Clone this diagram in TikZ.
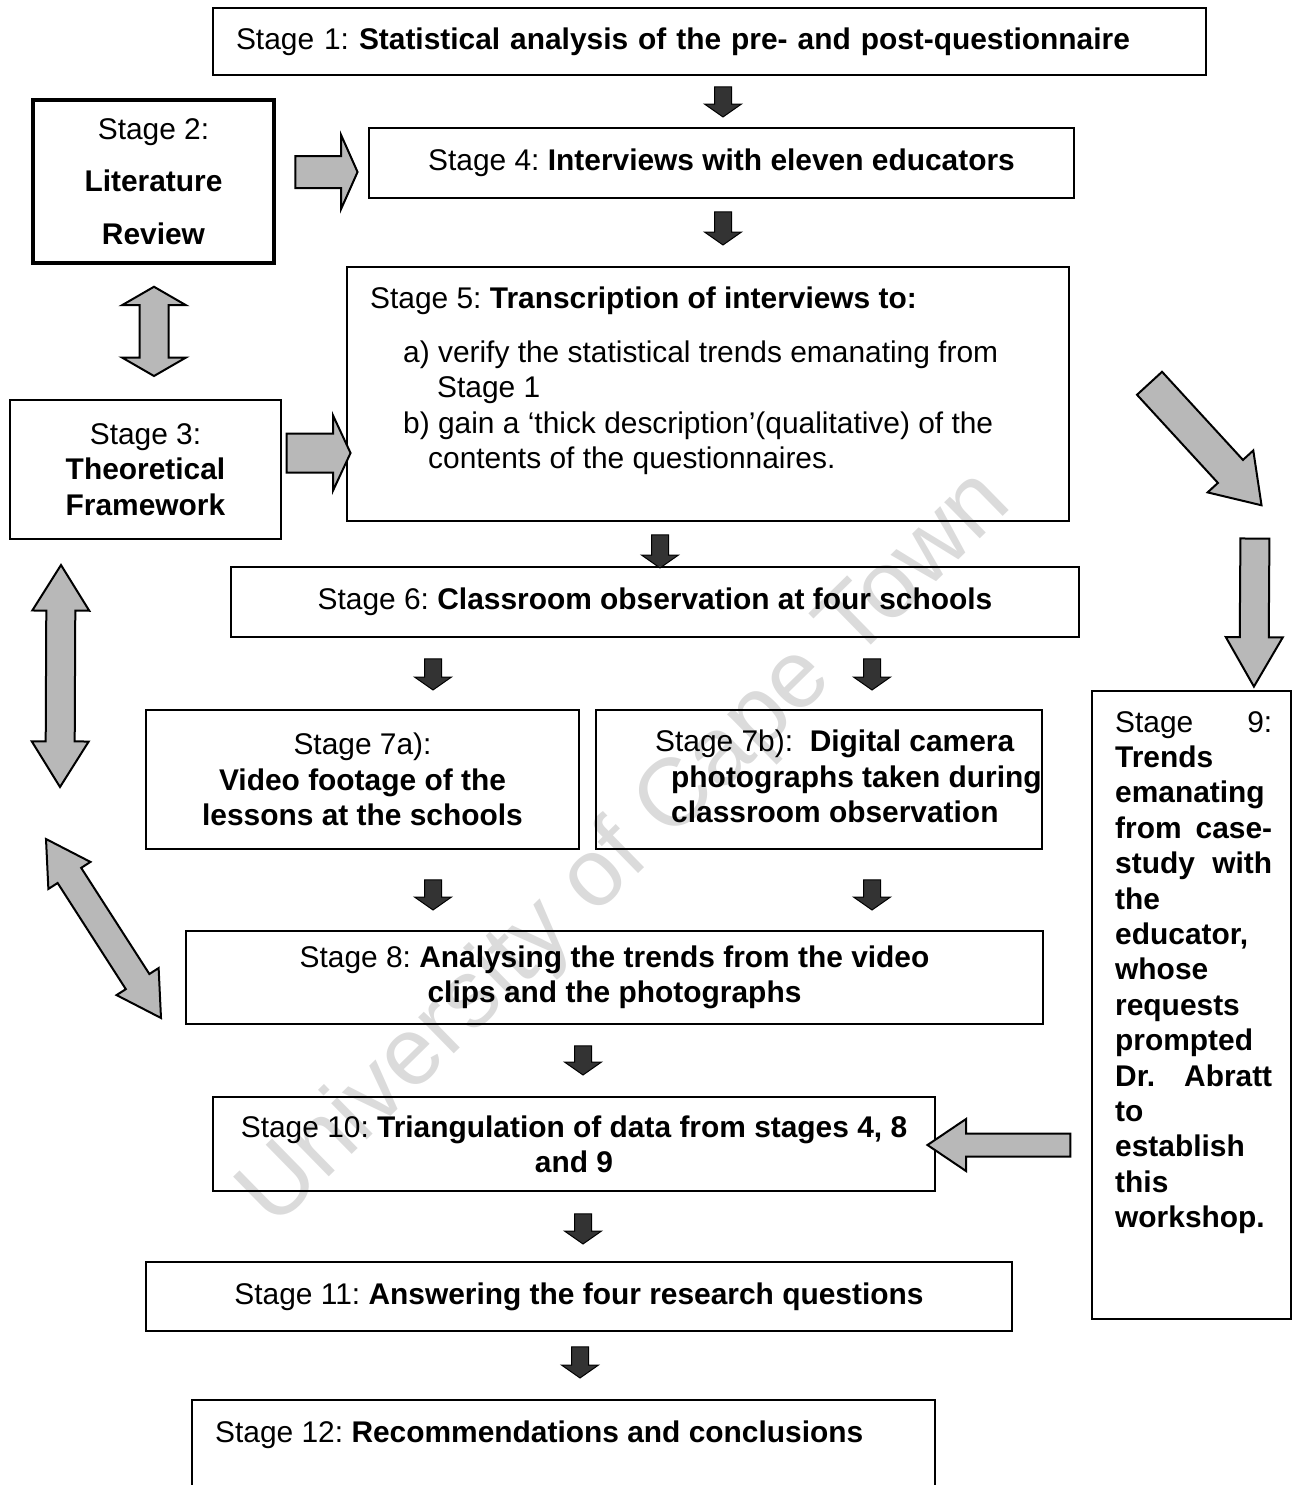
\documentclass[tikz,border=0pt]{standalone}
\usepackage{fontspec}
\setmainfont{Liberation Sans}
\usetikzlibrary{shapes.arrows, calc}
\frenchspacing

\begin{document}
\begin{tikzpicture}[x=1pt, y=-1pt,
    font=\fontsize{29.9}{35.4}\selectfont,
    box/.style={draw, line width=2pt, inner sep=0pt, align=center},
    fatarrow/.style={to path={let \p1=(\tikztostart), \p2=(\tikztotarget),
        \n1={atan2(\y2-\y1,\x2-\x1)}, \n2={veclen(\x2-\x1,\y2-\y1)} in
        node[#1, rotate=\n1, minimum height=\n2] at ($(\p1)!0.5!(\p2)$) {}}},
    smallarr/.style={single arrow, draw=black, line width=1pt, fill=black!80,
        inner xsep=0pt, inner ysep=8pt, single arrow head extend=10pt,
        single arrow tip angle=110},
    bigarr/.style n args={3}{single arrow, draw=black, line width=2pt, fill=black!28,
        inner xsep=0pt, inner ysep=#1, single arrow head extend=#2,
        single arrow tip angle=#3},
    dblarr/.style n args={3}{double arrow, draw=black, line width=2pt, fill=black!28,
        inner xsep=0pt, inner ysep=#1, double arrow head extend=#2,
        double arrow tip angle=#3}]
    \useasboundingbox (0,0) rectangle (1295,1485);

    % watermark
    \node[rotate=44.4, text=black!14, font=\fontsize{96}{96}\selectfont] (wm) at (627,850) {University of Cape Town};

    % stages
    \node[box, minimum width=993pt, minimum height=67pt, text width=947pt, align=left] (s1) at (709.5,41.5)
        {Stage 1: \textbf{Statistical analysis of the pre- and post-questionnaire}};
    \node[box, line width=3.5pt, minimum width=241pt, minimum height=163pt] (s2) at (153.5,181.5)
        {Stage 2:\\[17pt]\textbf{Literature}\\[17pt]\textbf{Review}};
    \node[box, minimum width=705pt, minimum height=70pt] (s4) at (721.5,163)
        {Stage 4: \textbf{Interviews with eleven educators}};
    \node[box, minimum width=722pt, minimum height=254pt] (s5) at (708,394) {};
    \node[anchor=north west, align=left, inner sep=0pt] (s5t) at ([shift={(24,21)}]s5.north west)
        {Stage 5: \textbf{Transcription of interviews to:}\\[18pt]
         \hspace*{33pt}a) verify the statistical trends emanating from\\
         \hspace*{67pt}Stage 1\\
         \hspace*{33pt}b) gain a ‘thick description’(qualitative) of the\\
         \hspace*{58pt}contents of the questionnaires.};
    \node[box, minimum width=271pt, minimum height=139pt] (s3) at (145.5,469.5)
        {Stage 3:\\\textbf{Theoretical}\\\textbf{Framework}};
    \node[box, minimum width=848pt, minimum height=70pt] (s6) at (655,602)
        {Stage 6: \textbf{Classroom observation at four schools}};
    \node[box, minimum width=433pt, minimum height=139pt] (s7a) at (362.5,779.5)
        {Stage 7a):\\\textbf{Video footage of the}\\\textbf{lessons at the schools}};
    \node[box, minimum width=446pt, minimum height=139pt] (s7b) at (819,779.5) {};
    \node[anchor=north west, align=left, inner sep=0pt] (s7bt) at ([shift={(60,21)}]s7b.north west)
        {Stage 7b):\ \ \textbf{Digital camera}\\
         \hspace*{16pt}\textbf{photographs taken during}\\
         \hspace*{16pt}\textbf{classroom observation}};
    \node[box, minimum width=857pt, minimum height=93pt] (s8) at (614.5,977.5)
        {Stage 8: \textbf{Analysing the trends from the video}\\\textbf{clips and the photographs}};
    \node[box, minimum width=199pt, minimum height=628pt] (s9) at (1191.5,1005) {};
    \node[anchor=north west, text width=157pt, align=left, inner sep=0pt] (s9t) at ([shift={(24,21)}]s9.north west)
        {Stage\hfill 9:\\
         \textbf{Trends}\\
         \textbf{emanating}\\
         \textbf{from\hfill case-}\\
         \textbf{study\hfill with}\\
         \textbf{the}\\
         \textbf{educator,}\\
         \textbf{whose}\\
         \textbf{requests}\\
         \textbf{prompted}\\
         \textbf{Dr.\hfill Abratt}\\
         \textbf{to}\\
         \textbf{establish}\\
         \textbf{this}\\
         \textbf{workshop.}};
    \node[box, minimum width=722pt, minimum height=94pt] (s10) at (574,1144)
        {Stage 10: \textbf{Triangulation of data from stages 4, 8}\\\textbf{and 9}};
    \node[box, minimum width=866pt, minimum height=69pt] (s11) at (579,1296.5)
        {Stage 11: \textbf{Answering the four research questions}};
    \begin{scope}
        \clip (0,0) rectangle (1295,1485);
        \node[box, minimum width=743pt, minimum height=120pt] (s12) at (563.5,1460) {};
        \node[anchor=base west, inner sep=0pt] (s12t) at (215,1442)
            {Stage 12: \textbf{Recommendations and conclusions}};
    \end{scope}

    % small down arrows
    \path[fatarrow=smallarr] ([shift={(13.5,8)}]s1.south) to ([shift={(1.5,-13)}]s4.north);
    \path[fatarrow=smallarr] ([shift={(1.5,10)}]s4.south) to ([shift={(15,-24)}]s5.north);
    \path[fatarrow=smallarr] ([shift={(-48,10)}]s5.south) to ([shift={(5,-1)}]s6.north);
    \path[fatarrow=smallarr] ([shift={(-222,18)}]s6.south) to ([shift={(70.5,-22)}]s7a.north);
    \path[fatarrow=smallarr] ([shift={(217,18)}]s6.south) to ([shift={(53,-22)}]s7b.north);
    \path[fatarrow=smallarr] ([shift={(70.5,27)}]s7a.south) to ([shift={(-181.5,-23)}]s8.north);
    \path[fatarrow=smallarr] ([shift={(53,27)}]s7b.south) to ([shift={(257.5,-23)}]s8.north);
    \path[fatarrow=smallarr] ([shift={(-31.5,18)}]s8.south) to ([shift={(9,-24)}]s10.north);
    \path[fatarrow=smallarr] ([shift={(9,19)}]s10.south) to ([shift={(4,-20)}]s11.north);
    \path[fatarrow=smallarr] ([shift={(1,12)}]s11.south) to ([shift={(16.5,-24)}]s12.north);

    % big arrows
    \path[fatarrow={bigarr={15pt}{21pt}{132}}] ([shift={(16,-9.5)}]s2.east) to ([shift={(-14,9)}]s4.west);
    \path[fatarrow={bigarr={18.5pt}{18pt}{130}}] ([shift={(0,-16.5)}]s3.east) to ([shift={(0,59)}]s5.west);
    \path[fatarrow={dblarr={13.5pt}{17.5pt}{120}}] ([shift={(0.5,22)}]s2.south) to ([shift={(8.5,-23)}]s3.north);
    \path[fatarrow={dblarr={13.5pt}{14pt}{64}}] ([shift={(-84.5,25)}]s3.south) to ([shift={(-85,7.5)}]s7a.west);
    \path[fatarrow={dblarr={13pt}{11pt}{60}}] ([shift={(-99,-11)}]s7a.south west) to ([shift={(-24,40.5)}]s8.west);
    \path[fatarrow={bigarr={16pt}{14pt}{68}}] ([shift={(71,108)}]s5.north east) to ([shift={(61.5,-194)}]s9.north);
    \path[fatarrow={bigarr={13.5pt}{14pt}{60}}] ([shift={(185,4)}]s5.south east) to ([shift={(62.5,-16)}]s9.north);
    \path[fatarrow={bigarr={10.5pt}{14.5pt}{68}}] ([shift={(-12,140)}]s9.west) to ([shift={(0,1)}]s10.east);
\end{tikzpicture}
\end{document}
